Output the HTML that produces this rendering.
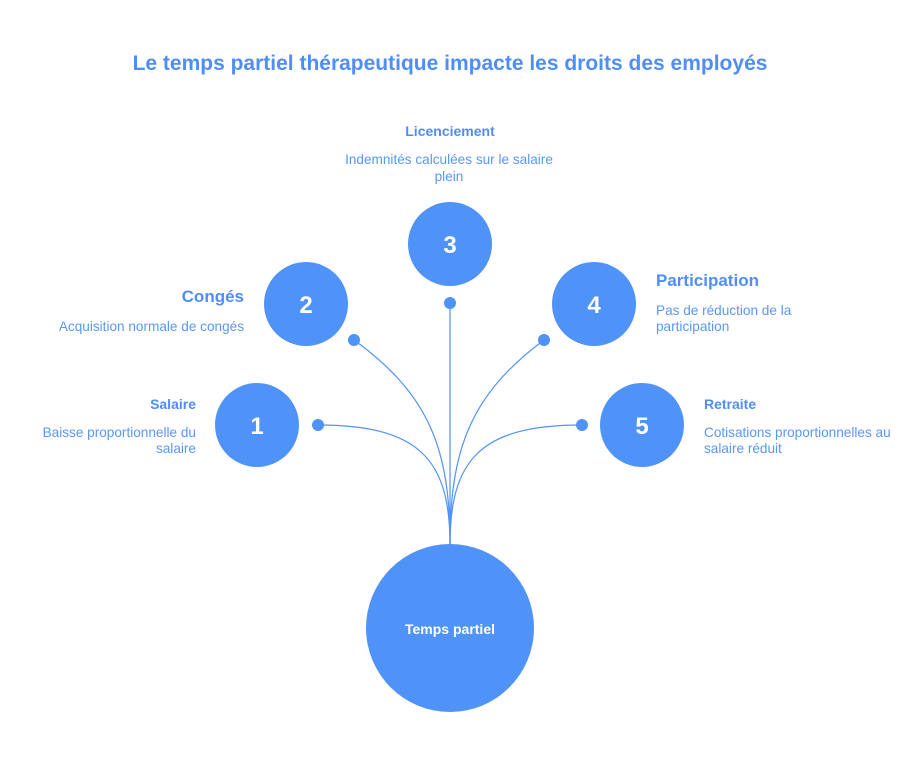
<!DOCTYPE html>
<html><head><meta charset="utf-8"><style>
html,body{margin:0;padding:0;background:#fff;}
svg{display:block;font-family:"Liberation Sans",sans-serif;}
</style></head><body>
<svg width="918" height="762" viewBox="0 0 918 762" xmlns="http://www.w3.org/2000/svg">
<text x="450" y="70" text-anchor="middle" font-size="21" font-weight="bold" fill="#4f8ef7">Le temps partiel thérapeutique impacte les droits des employés</text>
<g fill="none" stroke="#5093f8" stroke-width="1.2">
<path d="M318 425 C420 425 450 460 450 545"/>
<path d="M354 340 C430 395 450 450 450 545"/>
<path d="M450 303 L450 545"/>
<path d="M544 340 C470 395 450 450 450 545"/>
<path d="M582 425 C480 425 450 460 450 545"/>
</g>
<g fill="#5093f8">
<circle cx="318" cy="425" r="6"/><circle cx="354" cy="340" r="6"/><circle cx="450" cy="303" r="6"/><circle cx="544" cy="340" r="6"/><circle cx="582" cy="425" r="6"/>
<circle cx="257" cy="425" r="42"/><circle cx="306" cy="304" r="42"/><circle cx="450" cy="244" r="42"/><circle cx="594" cy="304" r="42"/><circle cx="642" cy="425" r="42"/>
<circle cx="450" cy="628" r="84"/>
</g>
<g fill="#fff" font-weight="bold" font-size="24" text-anchor="middle">
<text x="257" y="434">1</text><text x="306" y="313">2</text><text x="450" y="253">3</text><text x="594" y="313">4</text><text x="642" y="434">5</text>
<text x="450" y="634" font-size="14">Temps partiel</text>
</g>
<g fill="#4f8ef7" font-weight="bold">
<text x="196" y="409" text-anchor="end" font-size="14">Salaire</text>
<text x="244" y="302" text-anchor="end" font-size="17">Congés</text>
<text x="450" y="136" text-anchor="middle" font-size="14">Licenciement</text>
<text x="656" y="286" font-size="17">Participation</text>
<text x="704" y="409" font-size="14">Retraite</text>
</g>
<g fill="#5a97f8" font-size="13.6">
<text x="196" y="437" text-anchor="end">Baisse proportionnelle du</text>
<text x="196" y="453" text-anchor="end">salaire</text>
<text x="244" y="331" text-anchor="end">Acquisition normale de congés</text>
<text x="449" y="164" text-anchor="middle">Indemnités calculées sur le salaire</text>
<text x="449" y="181" text-anchor="middle">plein</text>
<text x="656" y="315">Pas de réduction de la</text>
<text x="656" y="331">participation</text>
<text x="704" y="437">Cotisations proportionnelles au</text>
<text x="704" y="453">salaire réduit</text>
</g>
</svg>
</body></html>
